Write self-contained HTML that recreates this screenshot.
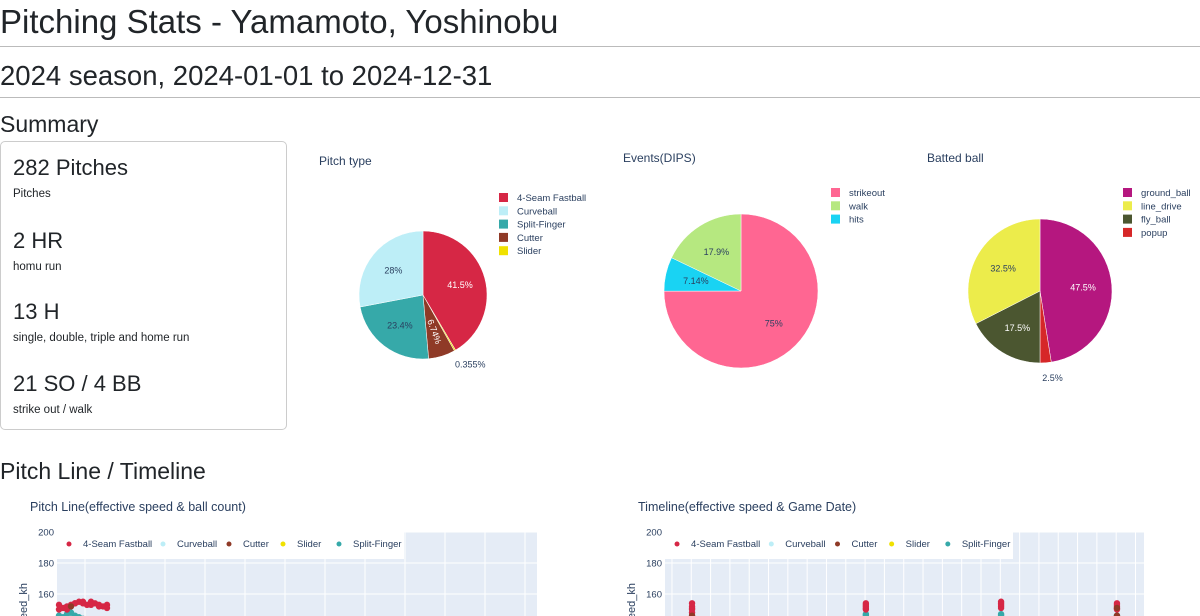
<!DOCTYPE html>
<html><head><meta charset="utf-8"><style>
html,body{overflow:hidden}
body{margin:0;width:1200px;height:616px;overflow:hidden;background:#fff;font-family:"Liberation Sans",sans-serif;color:#212529;position:relative}
.a{position:absolute;white-space:nowrap}
hr{position:absolute;left:0;width:1200px;margin:0;border:0;border-top:1px solid #bbb}
#card{position:absolute;left:0;top:141px;width:287px;height:289px;border:1px solid #ccc;border-radius:5px;box-sizing:border-box}
svg{position:absolute;left:0;top:0}
</style></head><body>
<div class="a" style="left:0;top:1px;font-size:33px;line-height:42px">Pitching Stats - Yamamoto, Yoshinobu</div>
<hr style="top:46px">
<div class="a" style="left:0;top:58px;font-size:27.5px;line-height:36px">2024 season, 2024-01-01 to 2024-12-31</div>
<hr style="top:97px">
<div class="a" style="left:0;top:109px;font-size:23px;line-height:30px">Summary</div>
<div id="card">
<div class="a" style="left:12px;top:13px;font-size:22px">282 Pitches</div>
<div class="a" style="left:12px;top:46px;font-size:11.5px">Pitches</div>
<div class="a" style="left:12px;top:86px;font-size:22px">2 HR</div>
<div class="a" style="left:12px;top:119px;font-size:11.5px">homu run</div>
<div class="a" style="left:12px;top:157px;font-size:22px">13 H</div>
<div class="a" style="left:12px;top:190px;font-size:11.5px">single, double, triple and home run</div>
<div class="a" style="left:12px;top:229px;font-size:22px">21 SO / 4 BB</div>
<div class="a" style="left:12px;top:262px;font-size:11.5px">strike out / walk</div>
</div>
<div class="a" style="left:0;top:456px;font-size:23px;line-height:30px">Pitch Line / Timeline</div>
<svg id="sv" width="1200" height="616" font-family="Liberation Sans, sans-serif"></svg>
<script>
const pitchLabels=["4-Seam Fastball","Slider","Cutter","Split-Finger","Curveball"];
const pitchValues=[41.5,0.355,6.74,23.4,28];
const pitchLegend=["4-Seam Fastball","Curveball","Split-Finger","Cutter","Slider"];
const eventLabels=["strikeout","hits","walk"];
const eventValues=[75,7.14,17.9];
const eventLegend=["strikeout","walk","hits"];
const battedLabels=["ground_ball","popup","fly_ball","line_drive"];
const battedValues=[47.5,2.5,17.5,32.5];
const battedLegend=["ground_ball","line_drive","fly_ball","popup"];
const seriesNames=["4-Seam Fastball","Curveball","Cutter","Slider","Split-Finger"];
const yTicks=[160,180,200];
// pitch line: x = pitch index in count sequence
const plFFx=[0,1,2,3,4,5,6,7,8,9,10,11,12,0,2,4,6,8,10,12];
const plFFy=[150,151,152,153,154,155,154,153,155,154,153,152,153,153,150,154,155,153,152,151];
const plFSx=[0,1,2,3,4,5,6,7,8,1,3];
const plFSy=[146,145,147,148,146,145,144,143,142,143,144];
const plFCx=[3];
const plFCy=[152];
// timeline: x = day index
const tlDays=[7,52,87,117];
const tlFFy=[[148,150,151,152,154],[150,151,152,153,154],[151,152,153,154,155],[150,151,152,153,154]];
const tlFSy=[[142,143],[144,145,146,147],[143,145,146,147],[143,145,146]];
const tlFCy=[[145,146],[],[],[146,151]];

const C={"4-Seam Fastball":"#d62745","Curveball":"#bdeef7","Split-Finger":"#36a9a9","Cutter":"#8f3a27","Slider":"#f0e100",
"strikeout":"#ff6692","walk":"#b6e880","hits":"#19d3f3","ground_ball":"#b5177f","line_drive":"#ecec4b","fly_ball":"#4b5630","popup":"#d62728"};
const sv=document.getElementById('sv');const NS='http://www.w3.org/2000/svg';
function mk(t,at,txt){const e=document.createElementNS(NS,t);for(const k in at)e.setAttribute(k,at[k]);if(txt!=null)e.textContent=txt;sv.appendChild(e);return e;}
function txt(x,y,s,size,fill,anch,name){const e=mk('text',{x:x,y:y,'font-size':size,fill:fill,'text-anchor':anch||'start'},s);

return e;}
function pie(labels,vals,cx,cy,r,name){
 const tot=vals.reduce((a,b)=>a+b,0);let a0=0;
 vals.forEach((v,i)=>{const a1=a0+v/tot*2*Math.PI;
  const p=(a)=>[cx+r*Math.sin(a),cy-r*Math.cos(a)];const s=p(a0),e=p(a1);
  const d=`M${cx},${cy}L${s[0]},${s[1]}A${r},${r} 0 ${a1-a0>Math.PI?1:0} 1 ${e[0]},${e[1]}Z`;
  const el=mk('path',{d:d,fill:C[labels[i]],stroke:'#fff','stroke-width':0.5});
  
  
  const m=(a0+a1)/2,pct=+(v/tot*100).toPrecision(3)+'%';
  if(v/tot<0.03){const lx=cx+(r+8)*Math.sin(m),ly=cy-(r+8)*Math.cos(m);
   txt(lx-4,ly+10,pct,9,'#2a3f5f','start',name+'-label');}
  else{const rr=r*0.6;const lx=cx+rr*Math.sin(m),ly=cy-rr*Math.cos(m);
   const light=["4-Seam Fastball","Cutter","ground_ball","fly_ball"].includes(labels[i]);
   const t=txt(lx,ly+3,pct,9,light?'#fff':'#2a3f5f','middle',name+'-label');
   if(labels[i]=="Cutter")t.setAttribute('transform',`rotate(70 ${lx} ${ly})`);}
  a0=a1;});
}
function legend(items,x,y,name){items.forEach((s,i)=>{const r=mk('rect',{x:x,y:y+i*13.3,width:9,height:9,fill:C[s]});
 
 
 txt(x+18,y+i*13.3+8,s,9.5,'#2a3f5f','start',name+'-legend-entry');});}
txt(319,165,"Pitch type",12,'#2a3f5f','start','pitch-type-title');
pie(pitchLabels,pitchValues,423,295,64,'pitch-type');legend(pitchLegend,499,193,'pitch-type');
txt(623,162,"Events(DIPS)",12,'#2a3f5f','start','events-title');
pie(eventLabels,eventValues,741,291,77,'events');legend(eventLegend,831,188,'events');
txt(927,162,"Batted ball",12,'#2a3f5f','start','batted-ball-title');
pie(battedLabels,battedValues,1040,291,72,'batted-ball');legend(battedLegend,1123,188,'batted-ball');

function scatter(px0,px1,xmin,xmax,gridStart,gridStep,title,tx,name,legW,pts){
 const py0=532;const ys=v=>py0+(200-v)*1.55;const xs=v=>px0+(v-xmin)/(xmax-xmin)*(px1-px0);
 txt(tx,511,title,12.5,'#2a3f5f','start',name+'-title');
 const bg=mk('rect',{x:px0,y:py0,width:px1-px0,height:84,fill:'#e5ecf6'});
 
 
 for(let g=gridStart;g<=xmax;g+=gridStep){mk('line',{x1:xs(g),x2:xs(g),y1:py0,y2:616,stroke:'#fff','stroke-width':1});}
 yTicks.forEach(t=>{mk('line',{x1:px0,x2:px1,y1:ys(t),y2:ys(t),stroke:'#fff','stroke-width':1});
  txt(px0-3,ys(t)+3.5,String(t),9.5,'#2a3f5f','end',name+'-y-tick');});
 const yl=txt(px0-30,583,"release_speed_kh",11,'#2a3f5f','end',name+'-y-axis-title');
 yl.setAttribute('transform',`rotate(-90 ${px0-30} 583)`);
 pts.forEach(([xa,ya,c])=>{xa.forEach((x,i)=>{const d=mk('circle',{cx:xs(x),cy:ys(ya[i]),r:3.2,fill:C[c]});
  
  });});
 const lg=mk('rect',{x:px0,y:py0,width:legW,height:27,fill:'#fff'});
 
 
 const offs=[12,106,172,226,282];
 seriesNames.forEach((s,i)=>{const ox=px0+offs[i]*legW/347;mk('circle',{cx:ox,cy:py0+12,r:2.5,fill:C[s]});
  txt(ox+14,py0+15,s,9.5,'#2a3f5f','start',name+'-legend-entry');});
}
scatter(57,537,-0.5,119.5,6.5,10,"Pitch Line(effective speed & ball count)",30,'pitch-line',347,
 [[plFSx,plFSy,"Split-Finger"],[plFFx,plFFy,"4-Seam Fastball"],[plFCx,plFCy,"Cutter"]]);
function flat(ys){const X=[],Y=[];ys.forEach((a,i)=>a.forEach(v=>{X.push(tlDays[i]);Y.push(v);}));return [X,Y];}
const f1=flat(tlFSy),f2=flat(tlFFy),f3=flat(tlFCy);
scatter(665,1144,0,124,1.8,5,"Timeline(effective speed & Game Date)",638,'timeline',348,
 [[f1[0],f1[1],"Split-Finger"],[f2[0],f2[1],"4-Seam Fastball"],[f3[0],f3[1],"Cutter"]]);
</script>
</body></html>
